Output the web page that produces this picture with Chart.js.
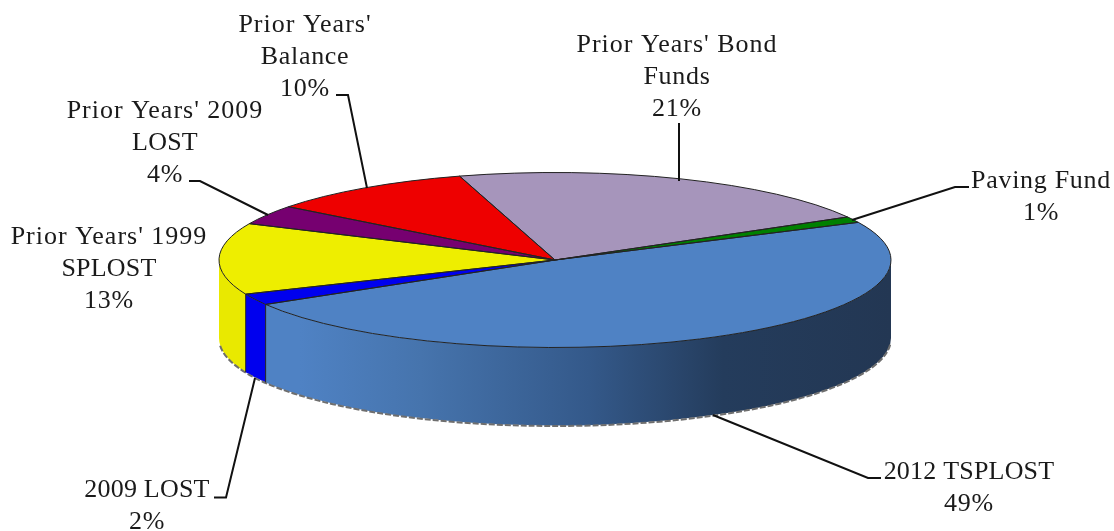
<!DOCTYPE html>
<html><head><meta charset="utf-8">
<style>html,body{margin:0;padding:0;background:#fff;overflow:hidden}canvas{display:block}</style>
<script src="https://cdn.jsdelivr.net/npm/chart.js@4/dist/chart.umd.min.js"></script>
</head><body>
<canvas id="c" width="1114" height="531"></canvas>
<script>
const categories = ["2012 TSPLOST","2009 LOST","Prior Years' 1999 SPLOST","Prior Years' 2009 LOST","Prior Years' Balance","Prior Years' Bond Funds","Paving Fund"];
const values = [48.6,2.1,13.2,3.6,10,21.4,1.1];
const topColors = ["#4f82c4","#0000ee","#eeee00","#760070","#ee0000","#a695bb","#008000"];
const sideColors = [null,"#0000ee","#e9e900","#600060","#c00000","#8a7a9f","#006000"];
const labelLines = [["2012 TSPLOST"],["2009 LOST"],["Prior Years' 1999","SPLOST"],["Prior Years' 2009","LOST"],["Prior Years'","Balance"],["Prior Years' Bond","Funds"],["Paving Fund"]];
const labelAnchors = [[969,479],[147,497],[109,244],[165,118],[305,32],[677,52],[1041,188]];
const leaders = [
 [[713,415],[868,478],[881,478]],
 [[255,378],[226,497.5],[214,497.5]],
 null,
 [[268,215],[200,181],[189,181]],
 [[367,188],[348,95],[336,95]],
 [[679,181],[679,123]],
 [[852,220],[955,187],[969,187]]
];
const SQUASH = 87.5/336, DEPTH = 78, LINE = 32;

function wallPath(ctx,cx,cy,rx,ry,a0,a1){
  ctx.beginPath();
  ctx.ellipse(cx,cy,rx,ry,0,a0,a1);
  ctx.ellipse(cx,cy+DEPTH,rx,ry,0,a1,a0,true);
  ctx.closePath();
}
const pie3d = {
  id:'pie3d',
  beforeDatasetsDraw(chart){
    const ctx = chart.ctx, arcs = chart.getDatasetMeta(0).data;
    const cx = arcs[0].x, cy = arcs[0].y, rx = arcs[0].outerRadius, ry = rx*SQUASH;
    const grad = ctx.createLinearGradient(cx-rx,0,cx+rx,0);
    grad.addColorStop(0,"#4f82c4");grad.addColorStop(0.12,"#4f82c4");
    grad.addColorStop(0.3,"#4674ad");grad.addColorStop(0.55,"#34598a");
    grad.addColorStop(0.75,"#243c5c");grad.addColorStop(1,"#233753");
    const TAU = Math.PI*2;
    arcs.forEach((a,i)=>{
      for(const k of [-1,0,1]){
        const s = Math.max(a.startAngle+k*TAU,0), e = Math.min(a.endAngle+k*TAU,Math.PI);
        if(e<=s) continue;
        wallPath(ctx,cx,cy,rx,ry,s,e);
        ctx.fillStyle = sideColors[i] || grad;
        ctx.fill();
      }
    });
    // jagged lower rim
    ctx.save();
    ctx.beginPath();
    ctx.ellipse(cx,cy+DEPTH+0.5,rx,ry,0,0.07,Math.PI-0.07);
    ctx.strokeStyle="#6e6e6e";ctx.lineWidth=2;ctx.setLineDash([6,2]);ctx.stroke();
    ctx.restore();
    ctx.save();
    ctx.translate(cx,cy);ctx.scale(1,SQUASH);ctx.translate(-cx,-cy);
  },
  afterDatasetsDraw(chart){
    const ctx = chart.ctx, arcs = chart.getDatasetMeta(0).data;
    ctx.restore();
    const cx = arcs[0].x, cy = arcs[0].y, rx = arcs[0].outerRadius, ry = rx*SQUASH;
    ctx.save();
    ctx.strokeStyle="#222";ctx.lineWidth=1;ctx.lineJoin="round";
    arcs.forEach(a=>{
      ctx.beginPath();ctx.moveTo(cx,cy);
      ctx.ellipse(cx,cy,rx,ry,0,a.startAngle,a.endAngle);
      ctx.closePath();ctx.stroke();
    });
    // vertical seams of the front wall
    const TAU=Math.PI*2;
    arcs.forEach(a=>{
      let t=((a.startAngle%TAU)+TAU)%TAU;
      if(t>0&&t<Math.PI){
        const x=cx+rx*Math.cos(t), y=cy+ry*Math.sin(t);
        ctx.beginPath();ctx.moveTo(x,y);ctx.lineTo(x,y+DEPTH);ctx.stroke();
      }
    });
    ctx.restore();
  },
  afterDraw(chart){
    const ctx = chart.ctx;
    ctx.save();
    ctx.strokeStyle="#111";ctx.lineWidth=2;ctx.lineJoin="miter";
    leaders.forEach(p=>{
      if(!p) return;
      ctx.beginPath();
      p.forEach((q,i)=>i?ctx.lineTo(q[0],q[1]):ctx.moveTo(q[0],q[1]));
      ctx.stroke();
    });
    ctx.fillStyle="#1a1a1a";ctx.font="26px 'Liberation Serif'";ctx.textAlign="center";ctx.textBaseline="alphabetic";
    categories.forEach((c,i)=>{
      const [x,y]=labelAnchors[i];
      const lines=[...labelLines[i],Math.round(values[i])+"%"];
      lines.forEach((t,j)=>{
        ctx.letterSpacing = /^[A-Z0-9 ]+$/.test(t) ? "0.2px" : (t.startsWith("Prior") ? "1px" : "0.7px");
        ctx.fillText(t,x,y+j*LINE);
      });
    });
    ctx.restore();
  }
};
new Chart(document.getElementById('c'),{
  type:'pie',
  data:{labels:categories,datasets:[{data:values,backgroundColor:topColors,borderWidth:0,hoverOffset:0}]},
  options:{
    responsive:false,animation:false,rotation:64.5,radius:336,
    layout:{padding:{left:0,right:4,top:0,bottom:11}},
    events:[],
    plugins:{legend:{display:false},tooltip:{enabled:false}}
  },
  plugins:[pie3d]
});
</script>
</body></html>
